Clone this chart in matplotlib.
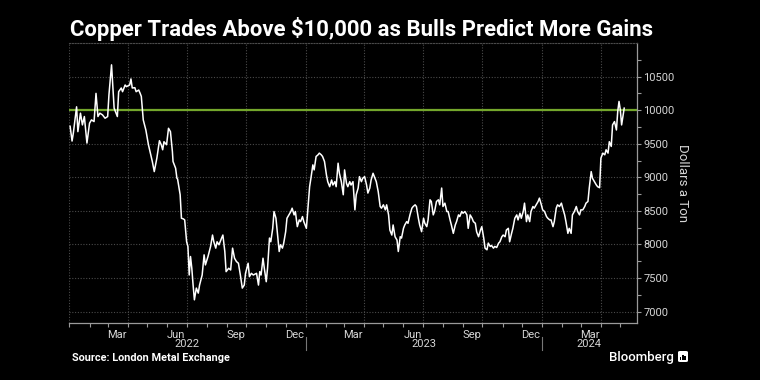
import matplotlib
matplotlib.use("Agg")
import matplotlib.pyplot as plt
import matplotlib.transforms as mtransforms
from matplotlib.patches import FancyBboxPatch, Rectangle
import pandas as pd

title = "Copper Trades Above $10,000 as Bulls Predict More Gains"
source = "Source: London Metal Exchange"
ylabel = "Dollars a Ton"
threshold = 10000

dates_2022 = [
    "2022-01-02", "2022-01-05", "2022-01-07", "2022-01-12", "2022-01-14", "2022-01-18", "2022-01-21",
    "2022-01-24", "2022-01-28", "2022-02-01", "2022-02-04", "2022-02-08", "2022-02-11", "2022-02-14",
    "2022-02-17", "2022-02-21", "2022-02-25", "2022-03-01", "2022-03-03", "2022-03-07", "2022-03-10",
    "2022-03-11", "2022-03-16", "2022-03-18", "2022-03-22", "2022-03-24", "2022-03-28", "2022-03-30",
    "2022-04-04", "2022-04-06", "2022-04-08", "2022-04-12", "2022-04-14", "2022-04-18", "2022-04-20",
    "2022-04-22", "2022-04-25", "2022-04-27", "2022-04-29", "2022-05-03", "2022-05-06", "2022-05-09",
    "2022-05-12", "2022-05-16", "2022-05-18", "2022-05-20", "2022-05-23", "2022-05-25", "2022-05-27",
    "2022-05-31", "2022-06-03", "2022-06-06", "2022-06-09", "2022-06-10", "2022-06-14", "2022-06-16",
    "2022-06-17", "2022-06-21", "2022-06-23", "2022-06-26", "2022-06-28", "2022-07-01", "2022-07-03",
    "2022-07-05", "2022-07-07", "2022-07-09", "2022-07-11", "2022-07-13", "2022-07-16", "2022-07-19",
    "2022-07-21", "2022-07-25", "2022-07-28", "2022-07-30", "2022-08-03", "2022-08-07", "2022-08-10",
    "2022-08-12", "2022-08-15", "2022-08-17", "2022-08-20", "2022-08-24", "2022-08-26", "2022-08-29",
    "2022-08-31", "2022-09-04", "2022-09-07", "2022-09-10", "2022-09-13", "2022-09-16", "2022-09-19",
    "2022-09-22", "2022-09-25", "2022-09-28", "2022-09-30", "2022-10-04", "2022-10-06", "2022-10-09",
    "2022-10-12", "2022-10-17", "2022-10-20", "2022-10-22", "2022-10-24", "2022-10-27", "2022-10-29",
    "2022-11-01", "2022-11-03", "2022-11-06", "2022-11-08", "2022-11-11", "2022-11-13", "2022-11-16",
    "2022-11-18", "2022-11-21", "2022-11-23", "2022-11-26", "2022-11-28", "2022-12-01", "2022-12-03",
    "2022-12-06", "2022-12-09", "2022-12-11", "2022-12-14", "2022-12-16", "2022-12-19", "2022-12-22",
    "2022-12-24", "2022-12-27", "2022-12-29",
]
values_2022 = [
    9760, 9540, 9660, 10050, 9680, 9955, 9780,
    9905, 9510, 9805, 9855, 9830, 10250, 9905,
    9955, 9930, 9880, 9905, 10230, 10675, 10180,
    10030, 9905, 10275, 10330, 10275, 10375, 10350,
    10375, 10465, 10330, 10335, 10275, 10300, 10255,
    10205, 9855, 9780, 9705, 9485, 9360, 9235,
    9085, 9285, 9410, 9545, 9480, 9410, 9530,
    9485, 9730, 9680, 9385, 9235, 9135, 8985,
    8975, 8740, 8390, 8380, 8365, 8040, 7970,
    7545, 7820, 7645, 7395, 7175, 7350, 7275,
    7395, 7545, 7845, 7695, 7820, 7970, 8140,
    8040, 7945, 8040, 7995, 8095, 8140, 7895,
    7595, 7645, 7620, 7945, 7795, 7745, 7720,
    7545, 7350, 7395, 7570, 7720, 7520, 7570,
    7545, 7570, 7395, 7595, 7545, 7795, 7645,
    7445, 7645, 8095, 8040, 8240, 8490, 8390,
    8190, 7895, 7995, 7945, 8020, 8190, 8390,
    8440, 8490, 8540, 8440, 8490, 8265, 8365,
    8340, 8415, 8340,
]

dates_2023 = [
    "2023-01-02", "2023-01-04", "2023-01-07", "2023-01-09", "2023-01-12", "2023-01-14", "2023-01-17",
    "2023-01-20", "2023-01-22", "2023-01-25", "2023-01-27", "2023-01-30", "2023-02-02", "2023-02-04",
    "2023-02-07", "2023-02-10", "2023-02-12", "2023-02-15", "2023-02-17", "2023-02-20", "2023-02-22",
    "2023-02-25", "2023-02-28", "2023-03-02", "2023-03-05", "2023-03-07", "2023-03-10", "2023-03-12",
    "2023-03-15", "2023-03-18", "2023-03-20", "2023-03-23", "2023-03-25", "2023-03-28", "2023-03-30",
    "2023-04-02", "2023-04-05", "2023-04-07", "2023-04-10", "2023-04-12", "2023-04-15", "2023-04-18",
    "2023-04-20", "2023-04-23", "2023-04-26", "2023-04-28", "2023-05-01", "2023-05-04", "2023-05-06",
    "2023-05-09", "2023-05-11", "2023-05-14", "2023-05-16", "2023-05-19", "2023-05-22", "2023-05-24",
    "2023-05-27", "2023-05-29", "2023-06-01", "2023-06-03", "2023-06-06", "2023-06-08", "2023-06-11",
    "2023-06-14", "2023-06-16", "2023-06-19", "2023-06-21", "2023-06-24", "2023-06-26", "2023-06-29",
    "2023-07-02", "2023-07-04", "2023-07-07", "2023-07-09", "2023-07-12", "2023-07-14", "2023-07-17",
    "2023-07-19", "2023-07-22", "2023-07-25", "2023-07-27", "2023-07-30", "2023-08-01", "2023-08-04",
    "2023-08-07", "2023-08-09", "2023-08-12", "2023-08-14", "2023-08-17", "2023-08-20", "2023-08-22",
    "2023-08-25", "2023-08-27", "2023-08-30", "2023-09-01", "2023-09-04", "2023-09-07", "2023-09-09",
    "2023-09-12", "2023-09-15", "2023-09-17", "2023-09-20", "2023-09-22", "2023-09-25", "2023-09-28",
    "2023-09-30", "2023-10-03", "2023-10-05", "2023-10-08", "2023-10-10", "2023-10-13", "2023-10-15",
    "2023-10-18", "2023-10-20", "2023-10-23", "2023-10-26", "2023-10-28", "2023-10-31", "2023-11-02",
    "2023-11-05", "2023-11-07", "2023-11-10", "2023-11-12", "2023-11-15", "2023-11-17", "2023-11-20",
    "2023-11-23", "2023-11-25", "2023-11-28", "2023-11-30", "2023-12-03", "2023-12-05", "2023-12-08",
    "2023-12-10", "2023-12-13", "2023-12-15", "2023-12-18", "2023-12-20", "2023-12-23", "2023-12-26",
    "2023-12-28", "2023-12-31",
]
values_2023 = [
    8240, 8490, 8860, 8985, 9185, 9110, 9310,
    9335, 9360, 9335, 9310, 9235, 9035, 8935,
    8860, 8960, 8885, 8935, 8860, 9210, 9060,
    8935, 8740, 9110, 8910, 8860, 8935, 8885,
    8935, 8515, 8740, 8840, 9010, 8935, 8985,
    9010, 8885, 8765, 8840, 8960, 9060, 8985,
    8935, 8785, 8565, 8540, 8590, 8515, 8590,
    8440, 8215, 8140, 8290, 8115, 8065, 7895,
    8115, 8095, 8240, 8290, 8340, 8315, 8440,
    8540, 8565, 8590, 8565, 8390, 8290, 8190,
    8390, 8315, 8265, 8365, 8665, 8640, 8440,
    8490, 8640, 8665, 8590, 8840, 8565, 8615,
    8490, 8490, 8365, 8290, 8165, 8290, 8340,
    8440, 8415, 8490, 8465, 8490, 8440, 8240,
    8440, 8390, 8340, 8315, 8190, 8115, 8215,
    8265, 8095, 7945, 7920, 8020, 7970, 7985,
    7945, 7970, 7955, 8020, 8040, 8115, 8140,
    8115, 8215, 8240, 8040, 8165, 8240, 8390,
    8440, 8365, 8465, 8390, 8490, 8615, 8340,
    8440, 8340, 8490, 8565, 8540, 8590, 8640,
    8690, 8590,
]

dates_2024 = [
    "2024-01-02", "2024-01-05", "2024-01-08", "2024-01-10", "2024-01-13", "2024-01-15", "2024-01-18",
    "2024-01-20", "2024-01-23", "2024-01-25", "2024-01-28", "2024-01-31", "2024-02-02", "2024-02-05",
    "2024-02-07", "2024-02-10", "2024-02-12", "2024-02-15", "2024-02-17", "2024-02-20", "2024-02-23",
    "2024-02-25", "2024-02-28", "2024-03-01", "2024-03-04", "2024-03-07", "2024-03-09", "2024-03-12",
    "2024-03-14", "2024-03-17", "2024-03-19", "2024-03-22", "2024-03-25", "2024-03-27", "2024-03-30",
    "2024-04-01", "2024-04-04", "2024-04-07", "2024-04-09", "2024-04-12", "2024-04-14", "2024-04-17",
    "2024-04-19", "2024-04-22", "2024-04-25", "2024-04-27", "2024-04-29", "2024-05-01", "2024-05-03",
    "2024-05-05", "2024-05-07",
]
values_2024 = [
    8515, 8490, 8415, 8390, 8365, 8365, 8265,
    8340, 8540, 8590, 8565, 8615, 8540, 8440,
    8340, 8165, 8240, 8165, 8440, 8490, 8565,
    8490, 8440, 8515, 8515, 8565, 8615, 8640,
    8840, 9085, 8985, 8935, 8885, 8860, 8845,
    9285, 9360, 9335, 9410, 9360, 9530, 9460,
    9780, 9830, 9705, 9980, 10130, 10005, 9780,
    9905, 10030,
]

month_labels = ["Mar", "Jun", "Sep", "Dec"]
year_labels = ["2022", "2023", "2024"]
y_ticks = [7000, 7500, 8000, 8500, 9000, 9500, 10000, 10500]

dates = pd.to_datetime(dates_2022 + dates_2023 + dates_2024)
values = values_2022 + values_2023 + values_2024

x_start = pd.Timestamp("2022-01-01")
x_end = x_start + pd.Timedelta(days=876)

bg = "black"
txt = "#d6d6d6"
grid_c = "#4a4a4a"
axis_c = "#9a9a9a"
font = "Roboto"

fig = plt.figure(figsize=(7.6, 3.8), dpi=100, facecolor=bg)
ax = fig.add_axes([0.0914, 0.15, 0.7461, 0.7368], facecolor=bg)

ax.set_xlim(x_start, x_end)
ax.set_ylim(6830, 11000)

# grid
ax.set_yticks(y_ticks)
ax.set_yticks(list(range(7000, 11000, 250)), minor=True)
for yv in y_ticks:
    ax.axhline(yv, color=grid_c, lw=0.8, ls=(0, (1, 1.5)), zorder=1)
qs = pd.date_range(x_start, x_end, freq="QS")
ax.vlines(qs, 6830, 11000, color=grid_c, lw=0.8, ls=(0, (1, 1.5)), zorder=1)

ax.axhline(threshold, color="#74a72c", lw=1.6, zorder=2)
ax.plot(dates, values, color="white", lw=1.1, zorder=3)

# spines
ax.spines["left"].set_visible(False)
ax.spines["top"].set_color(grid_c)
ax.spines["top"].set_linestyle((0, (1, 1.5)))
ax.spines["top"].set_linewidth(0.8)
ax.spines["right"].set_color(axis_c)
ax.spines["bottom"].set_color(axis_c)
ax.spines["right"].set_linewidth(0.9)
ax.spines["bottom"].set_linewidth(0.9)

ax.yaxis.tick_right()
ax.tick_params(axis="y", which="both", colors=axis_c, length=3, width=0.8, pad=2,
               labelcolor=txt, labelsize=8)
for lab in ax.get_yticklabels():
    lab.set_fontfamily(font)

# x ticks: minor at month starts, labels mid-month
months = pd.date_range(x_start, x_end, freq="MS")
ax.set_xticks(months, minor=True)
label_dates = [pd.Timestamp(f"{y}-{m:02d}-15") for y in (2022, 2023) for m in (3, 6, 9, 12)] + [pd.Timestamp("2024-03-15")]
label_text = month_labels * 2 + ["Mar"]
ax.set_xticks(label_dates)
ax.set_xticklabels(label_text, fontfamily=font, fontsize=8, color=txt)
ax.tick_params(axis="x", which="major", length=0, pad=5)
ax.tick_params(axis="x", which="minor", length=3, width=0.8, colors=axis_c)

ax.set_ylabel(ylabel, rotation=270, color=txt, fontsize=9.5, fontfamily=font, labelpad=10)
ax.yaxis.set_label_position("right")

trans = mtransforms.blended_transform_factory(ax.transData, ax.transAxes)
jan24 = pd.Timestamp("2024-01-01")
year_centers = [pd.Timestamp("2022-07-02"), pd.Timestamp("2023-07-02"), jan24 + (x_end - jan24) / 2]
for yc, yl in zip(year_centers, year_labels):
    ax.text(yc, -0.075, yl, transform=trans, ha="center", va="center", color=txt,
            fontsize=8, fontfamily=font, clip_on=False)
for sep in [pd.Timestamp("2023-01-01"), jan24]:
    ax.plot([sep, sep], [-0.05, -0.097], transform=trans, color="#777777", lw=0.8, clip_on=False)

fig.text(70 / 760, 1 - 29 / 380, title, color="white", fontsize=15.9, fontweight="bold",
         fontfamily=font, ha="left", va="center")
fig.text(72 / 760, 1 - 358 / 380, source, color="white", fontsize=7.8, fontweight="bold",
         fontfamily=font, ha="left", va="center")
fig.text(674 / 760, 1 - 357 / 380, "Bloomberg", color="white", fontsize=9.5, fontweight="medium",
         fontfamily=font, ha="right", va="center")

# small logo box
lx, ly, lw_, lh = 678 / 760, 1 - 362 / 380, 10 / 760, 11 / 380
fig.patches.append(FancyBboxPatch((lx, ly), lw_, lh, boxstyle="round,pad=0,rounding_size=0.003",
                                  transform=fig.transFigure, facecolor="white", edgecolor="none"))
for i, h in enumerate([0.45, 0.75, 0.55]):
    fig.patches.append(Rectangle((lx + (2 + i * 2.2) / 760, ly + 2 / 380), 1.3 / 760, h * 7 / 380,
                                 transform=fig.transFigure, facecolor="black", edgecolor="none"))

fig.savefig("out.png", dpi=100, facecolor=bg)
